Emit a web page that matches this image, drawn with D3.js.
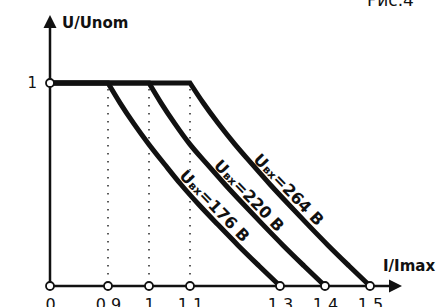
<!DOCTYPE html>
<html>
<head>
<meta charset="utf-8">
<script src="https://cdn.jsdelivr.net/npm/d3@7"></script>
<style>
  body { margin: 0; background: #fff; }
  svg { display: block; }
  text { font-family: "DejaVu Sans", sans-serif; fill: #111; }
</style>
</head>
<body>
<svg id="chart" width="447" height="307"></svg>
<script>
// values: U/Unom levels and I/Imax for each input voltage
const uLevels = [1, 0.9, 0.8, 0.7, 0.6, 0.5, 0.4, 0.3, 0.2, 0.1, 0];
const i176 = [0.9, 0.930, 0.963, 0.999, 1.038, 1.078, 1.120, 1.163, 1.207, 1.253, 1.3];
const i220 = [1.0, 1.030, 1.063, 1.099, 1.138, 1.178, 1.220, 1.263, 1.307, 1.353, 1.4];
const i264 = [1.1, 1.130, 1.163, 1.199, 1.238, 1.278, 1.320, 1.363, 1.407, 1.453, 1.5];
const seriesNames = ["176", "220", "264"];
const labelU = [0.54, 0.59, 0.62];

const xTicks = [0, 0.9, 1, 1.1, 1.3, 1.4, 1.5];
const xTickLabels = ["0", "0.9", "1", "1.1", "1.3", "1.4", "1.5"];
const yTicks = [1];
const guideTicks = [0.9, 1, 1.1];

const svg = d3.select("#chart");

// broken axis: the part 0..0.9 is squeezed
const x = d3.scaleLinear().domain([0, 0.9, 1.1, 1.5]).range([50, 108, 190, 370]);
const y = d3.scaleLinear().domain([0, 1]).range([286, 83]);

const x0 = x(0), y0 = y(0);
const xEnd = 402, yEnd = 15;

// dotted guides
svg.append("g")
    .selectAll("line")
    .data(guideTicks)
    .join("line")
    .attr("x1", d => x(d)).attr("x2", d => x(d))
    .attr("y1", y(1) + 6).attr("y2", y0 - 5)
    .attr("stroke", "#333")
    .attr("stroke-width", 1.6)
    .attr("stroke-dasharray", "1.6,6.4");

// axes lines and arrows
const axes = svg.append("g").attr("stroke", "#111").attr("stroke-width", 2.5);
axes.append("line").attr("x1", x0).attr("y1", y0).attr("x2", xEnd - 10).attr("y2", y0);
axes.append("line").attr("x1", x0).attr("y1", y0).attr("x2", x0).attr("y2", yEnd + 10);
svg.append("path")
    .attr("d", `M${xEnd},${y0}L${xEnd - 13},${y0 - 6.5}L${xEnd - 13},${y0 + 6.5}Z`)
    .attr("fill", "#111");
svg.append("path")
    .attr("d", `M${x0},${yEnd}L${x0 - 6.5},${yEnd + 13}L${x0 + 6.5},${yEnd + 13}Z`)
    .attr("fill", "#111");

// curves
const series = [i176, i220, i264];
const line = d3.line()
    .x(d => x(d[0]))
    .y(d => y(d[1]))
    .curve(d3.curveMonotoneX);

svg.append("g")
    .selectAll("path")
    .data(series)
    .join("path")
    .attr("d", s => {
        const pts = s.map((v, i) => [v, uLevels[i]]);
        return `M${x0},${y(1)}L` + line(pts).slice(1);
    })
    .attr("fill", "none")
    .attr("stroke", "#111")
    .attr("stroke-width", 5)
    .attr("stroke-linejoin", "miter");

// curve labels
function xAtU(s, u) {
    for (let i = 0; i < uLevels.length - 1; i++) {
        if (u <= uLevels[i] && u >= uLevels[i + 1]) {
            const t = (uLevels[i] - u) / (uLevels[i] - uLevels[i + 1]);
            return s[i] + t * (s[i + 1] - s[i]);
        }
    }
    return s[0];
}

const labels = svg.append("g")
    .selectAll("text")
    .data(series)
    .join("text")
    .attr("transform", (s, i) => `translate(${x(xAtU(s, labelU[i])) + 4},${y(labelU[i])}) rotate(46)`)
    .attr("font-weight", "bold")
    .attr("font-size", 16);

labels.append("tspan").text("U");
labels.append("tspan").attr("font-size", 11).attr("dx", 0.5).text("вх");
labels.append("tspan").attr("dx", 0.5).text((s, i) => `=${seriesNames[i]} В`);

// tick labels
const xAxis = svg.append("g")
    .attr("transform", `translate(0,${y0})`)
    .call(d3.axisBottom(x).tickValues(xTicks).tickSize(0).tickPadding(13)
        .tickFormat((d, i) => xTickLabels[i]));
xAxis.select(".domain").remove();
xAxis.selectAll("text")
    .attr("font-family", "DejaVu Sans")
    .attr("font-size", 16)
    .attr("fill", "#111");

const yAxis = svg.append("g")
    .attr("transform", `translate(${x0},0)`)
    .call(d3.axisLeft(y).tickValues(yTicks).tickSize(0).tickPadding(13).tickFormat(d3.format("d")));
yAxis.select(".domain").remove();
yAxis.selectAll("text")
    .attr("font-family", "DejaVu Sans")
    .attr("font-size", 15)
    .attr("fill", "#111");

// open circles at tick positions
svg.append("g")
    .selectAll("circle")
    .data(xTicks)
    .join("circle")
    .attr("cx", d => x(d)).attr("cy", y0)
    .attr("r", 4)
    .attr("fill", "#fff").attr("stroke", "#111").attr("stroke-width", 1.8);
svg.append("g")
    .selectAll("circle")
    .data(yTicks)
    .join("circle")
    .attr("cx", x0).attr("cy", d => y(d))
    .attr("r", 4)
    .attr("fill", "#fff").attr("stroke", "#111").attr("stroke-width", 1.8);

// axis titles
svg.append("text").attr("x", 62).attr("y", 28)
    .attr("font-weight", "bold").attr("font-size", 15).text("U/Unom");
svg.append("text").attr("x", 383).attr("y", 271)
    .attr("font-weight", "bold").attr("font-size", 15).text("I/Imax");

// figure caption, cut at the top edge
svg.append("text").attr("x", 367).attr("y", 6)
    .attr("font-size", 17).text("Рис.4");
</script>
</body>
</html>
